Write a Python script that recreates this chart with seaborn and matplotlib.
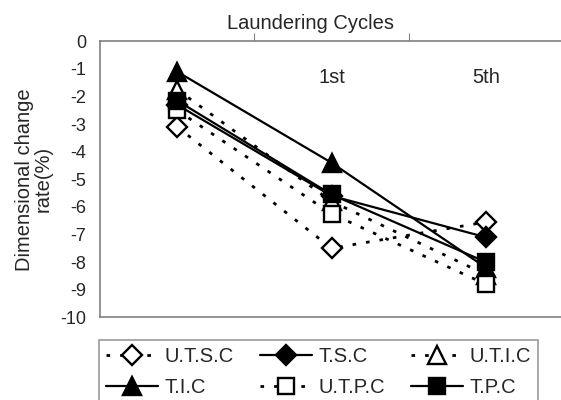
import matplotlib
matplotlib.use("Agg")
import matplotlib.pyplot as plt
import seaborn as sns
import numpy as np

# Dimensional change rate (%) over laundering cycles
cycle_labels = ['', '1st', '5th']
series_names = ['U.T.S.C', 'T.S.C', 'U.T.I.C', 'T.I.C', 'U.T.P.C', 'T.P.C']
utsc = [-3.1, -7.5, -6.55]
tsc = [-2.3, -5.6, -7.1]
utic = [-1.75, -5.8, -8.45]
tic = [-1.1, -4.4, -8.2]
utpc = [-2.5, -6.25, -8.8]
tpc = [-2.15, -5.55, -8.0]

values = [utsc, tsc, utic, tic, utpc, tpc]
markers = ['D', 'D', '^', '^', 's', 's']
sizes = [10, 10, 13, 13, 11, 11]
filled = [False, True, False, True, False, True]
dotted = (0, (1.3, 3.6))

sns.set_style('white')
plt.rcParams['font.family'] = ['Liberation Sans', 'DejaVu Sans']
plt.rcParams['axes.unicode_minus'] = False

fig = plt.figure(figsize=(5.61, 4), dpi=100)
ax = fig.add_axes([100 / 561, 82.7 / 400, 463 / 561, 276 / 400])

x = np.arange(len(cycle_labels))
for name, vals, mk, ms, fill in zip(series_names, values, markers, sizes, filled):
    sns.lineplot(x=x, y=vals, ax=ax, color='black', label=name,
                 linewidth=1.6 if fill else 2.0,
                 linestyle='-' if fill else dotted,
                 marker=mk, markersize=ms,
                 markerfacecolor='black' if fill else 'white',
                 markeredgecolor='black', markeredgewidth=1.7)

ax.set_xlim(-0.5, 2.5)
ax.set_ylim(-10, 0)
ax.set_yticks(np.arange(-10, 1, 1))
ax.tick_params(axis='y', direction='in', length=5, color='#808080',
               labelsize=13, pad=10)

# category axis crosses at 0, on top
ax.xaxis.set_ticks_position('top')
ax.set_xticks([0.5, 1.5, 2.5])
ax.set_xticklabels([])
ax.tick_params(axis='x', direction='out', length=6, color='#808080')
for i, lab in enumerate(cycle_labels):
    ax.text(x[i], -1.3, lab, ha='center', va='center', fontsize=14.5)

ax.xaxis.set_label_position('top')
ax.set_xlabel('Laundering Cycles', fontsize=14.5)
ax.xaxis.set_label_coords(0.4536, 1.063)
ax.xaxis.label.set_va('center')
ax.set_ylabel('Dimensional change\nrate(%)', fontsize=14.5, linespacing=1.0)
ax.yaxis.set_label_coords(-0.1425, 0.5)
ax.yaxis.label.set_va('center')

for side in ['left', 'top', 'bottom']:
    ax.spines[side].set_color('#808080')
    ax.spines[side].set_linewidth(1.2)
ax.spines['right'].set_visible(False)

handles, labels = ax.get_legend_handles_labels()
ax.get_legend().remove()
order = [0, 3, 1, 4, 2, 5]
leg = fig.legend([handles[i] for i in order], [labels[i] for i in order],
                 ncol=3, loc='upper left', bbox_to_anchor=(99 / 561, 1 - 340 / 400),
                 fontsize=14.5, frameon=True, fancybox=False, edgecolor='#808080',
                 handlelength=2.6, handletextpad=0.3, columnspacing=1.3,
                 labelspacing=0.6, borderpad=0.35, borderaxespad=0)
leg.get_frame().set_linewidth(1.2)

fig.savefig('out.png', dpi=100)
